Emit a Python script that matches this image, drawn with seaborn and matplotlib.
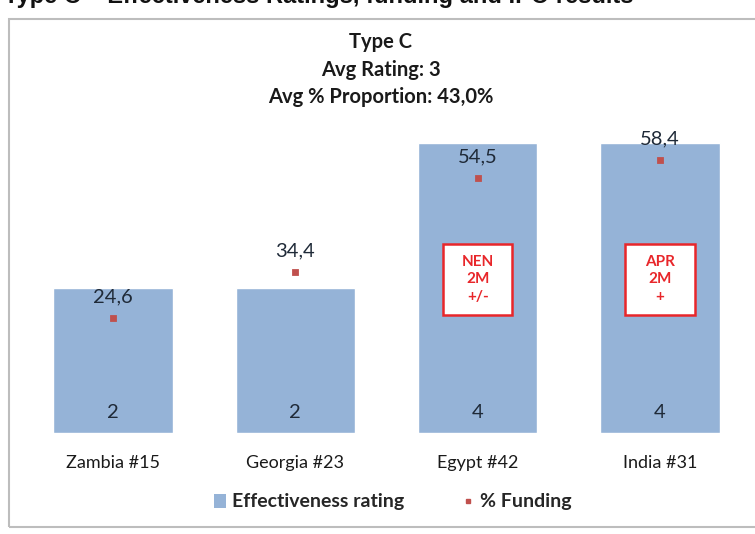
"""Type C effectiveness ratings with % funding overlay."""
import matplotlib
matplotlib.use("Agg")
import matplotlib.pyplot as plt
import seaborn as sns
import pandas as pd
from matplotlib.patches import Patch, Rectangle
from matplotlib.lines import Line2D

countries = ["Zambia #15", "Georgia #23", "Egypt #42", "India #31"]
rating = [2, 2, 4, 4]
funding = [24.6, 34.4, 54.5, 58.4]
title_lines = ["Type C", "Avg Rating: 3", "Avg % Proportion: 43,0%"]
heading = "Type C \u2013 Effectiveness Ratings, funding and IPO results"
# IPO result boxes: (category index, text)
box_idx = [2, 3]
box_text = ["NEN\n2M\n+/-", "APR\n2M\n+"]

BAR = "#95b3d7"
RED = "#c0504d"
BOXRED = "#e8262a"
DARK = "#1f2a38"

sns.set_theme(style="white")
plt.rcParams["font.family"] = ["Lato", "DejaVu Sans"]

df = pd.DataFrame({"country": countries, "rating": rating, "funding": funding})

W, H = 755, 534
fig = plt.figure(figsize=(W / 100, H / 100), dpi=100)

# outer chart frame
fig.patches.append(Rectangle((9 / W, 1 - 527 / H), 760 / W, 508 / H,
                             transform=fig.transFigure, fill=False,
                             edgecolor="#bdbdbd", linewidth=1.5))

ax = fig.add_axes([22 / W, 1 - 433 / H, 729 / W, 290 / H])
sns.barplot(data=df, x="country", y="rating", color=BAR, saturation=1,
            width=0.655, ax=ax)
ax.set_ylim(0, 4)
ax.set_xlim(-0.5, 3.5)
ax.set_xlabel("")
ax.set_ylabel("")
ax.set_yticks([])
ax.tick_params(axis="x", length=0, pad=16, labelsize=13, labelcolor="#1a1a1a")
for s in ax.spines.values():
    s.set_visible(False)

for i, v in enumerate(rating):
    ax.annotate(str(v), (i, 0), xytext=(0, 14.5), textcoords="offset points",
                ha="center", va="center", fontsize=14.5, color=DARK)

ax2 = ax.twinx()
sns.pointplot(data=df, x="country", y="funding", color=RED, markers="s",
              linestyle="none", markersize=3.3, ax=ax2)
ax2.set_ylim(0, 62)
ax2.set_xlim(-0.5, 3.5)
ax2.set_yticks([])
ax2.set_ylabel("")
ax2.set_xlabel("")
for s in ax2.spines.values():
    s.set_visible(False)
for i, v in enumerate(funding):
    ax2.annotate(f"{v:.1f}".replace(".", ","), (i, v), xytext=(0, 15),
                 textcoords="offset points", ha="center", va="center",
                 fontsize=14.5, color=DARK)

# IPO result boxes
for i, t in zip(box_idx, box_text):
    ax.add_patch(Rectangle((i - 0.19, 1.625), 0.38, 0.985, facecolor="white",
                           edgecolor=BOXRED, linewidth=1.8, zorder=3))
    ax.text(i, 2.12, t, ha="center", va="center", color=BOXRED,
            fontsize=11, fontweight="bold", linespacing=1.3, zorder=4)

for k, line in enumerate(title_lines):
    fig.text(381 / W, 1 - (42 + k * 27.5) / H, line, ha="center", va="center",
             fontsize=14.5, fontweight="bold", color="#1a1a1a")

fig.text(4 / W, 1 - 3 / H, heading, ha="left", va="baseline", fontsize=17,
         fontweight="bold", color="#111111", family=["Liberation Sans", "DejaVu Sans"])

handles = [Patch(facecolor=BAR, edgecolor="none"),
           Line2D([], [], marker="s", color=RED, linestyle="none", markersize=3.3)]
fig.legend(handles, ["Effectiveness rating", "% Funding"], loc="center",
           bbox_to_anchor=(393 / W, 1 - 502 / H), ncol=2, frameon=False,
           prop={"weight": "bold", "size": 14}, handlelength=0.6,
           handletextpad=0.3, columnspacing=3.0)

fig.savefig("out.png", dpi=100)
